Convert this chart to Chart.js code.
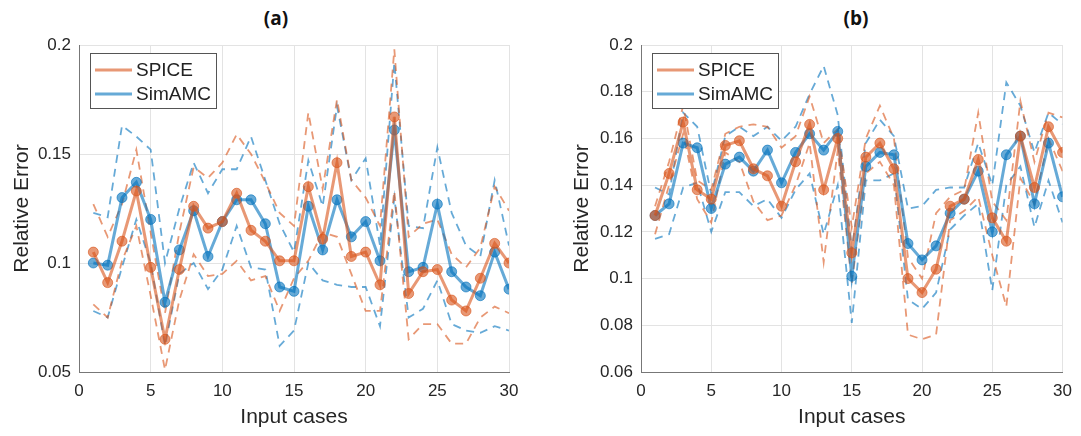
<!DOCTYPE html>
<html>
<head>
<meta charset="utf-8">
<script src="https://cdn.jsdelivr.net/npm/chart.js@4"></script>
<style>
  html, body { margin: 0; padding: 0; background: #fff; }
  #wrap { position: relative; width: 1081px; height: 436px; overflow: hidden; }
  canvas { position: absolute; top: 0; }
  .ptitle { position: absolute; top: 5px; font: bold 19px "Open Sans", "Liberation Sans", sans-serif; color: #111; transform: translateX(-50%); }
</style>
</head>
<body>
<div id="wrap">
  <div class="ptitle" style="left:276px">(a)</div>
  <div class="ptitle" style="left:856px">(b)</div>
  <canvas id="chartA" width="540" height="436" style="left:0"></canvas>
  <canvas id="chartB" width="541" height="436" style="left:540px"></canvas>
</div>
<script>
// --- DATA ---
const cases = [1,2,3,4,5,6,7,8,9,10,11,12,13,14,15,16,17,18,19,20,21,22,23,24,25,26,27,28,29,30];
const xTicks = [0, 5, 10, 15, 20, 25, 30];
const yTicksA = [0.05, 0.1, 0.15, 0.2];
const yTicksB = [0.06, 0.08, 0.1, 0.12, 0.14, 0.16, 0.18, 0.2];

// panel (a)
const spiceA      = [0.105,0.091,0.110,0.133,0.098,0.065,0.097,0.126,0.116,0.119,0.132,0.115,0.110,0.101,0.101,0.135,0.111,0.146,0.103,0.105,0.090,0.167,0.086,0.096,0.097,0.083,0.078,0.093,0.109,0.100];
const simamcA     = [0.100,0.099,0.130,0.137,0.120,0.082,0.106,0.124,0.103,0.119,0.129,0.129,0.118,0.089,0.087,0.126,0.106,0.129,0.112,0.119,0.101,0.161,0.096,0.098,0.127,0.096,0.089,0.085,0.105,0.088];
const spiceHiA    = [0.127,0.112,0.127,0.152,0.114,0.077,0.114,0.144,0.139,0.146,0.159,0.150,0.137,0.123,0.117,0.169,0.134,0.175,0.138,0.130,0.117,0.198,0.112,0.118,0.120,0.104,0.098,0.107,0.135,0.124];
const spiceLoA    = [0.081,0.075,0.101,0.117,0.085,0.051,0.083,0.104,0.094,0.095,0.101,0.092,0.094,0.078,0.093,0.101,0.114,0.112,0.095,0.078,0.078,0.133,0.065,0.072,0.072,0.063,0.063,0.075,0.080,0.077];
const simamcHiA   = [0.123,0.121,0.163,0.158,0.152,0.100,0.125,0.146,0.132,0.143,0.143,0.158,0.138,0.118,0.105,0.147,0.126,0.172,0.138,0.148,0.108,0.192,0.117,0.116,0.153,0.123,0.108,0.103,0.138,0.108];
const simamcLoA   = [0.078,0.075,0.098,0.120,0.100,0.062,0.095,0.100,0.088,0.097,0.117,0.098,0.097,0.062,0.069,0.100,0.092,0.090,0.089,0.089,0.071,0.130,0.075,0.079,0.092,0.072,0.069,0.068,0.071,0.069];

// panel (b)
const spiceB      = [0.127,0.145,0.167,0.138,0.134,0.157,0.159,0.147,0.144,0.131,0.150,0.166,0.138,0.160,0.111,0.152,0.158,0.147,0.100,0.094,0.104,0.131,0.134,0.151,0.126,0.116,0.161,0.139,0.165,0.154];
const simamcB     = [0.127,0.132,0.158,0.156,0.130,0.149,0.152,0.146,0.155,0.141,0.154,0.162,0.155,0.163,0.101,0.148,0.154,0.153,0.115,0.108,0.114,0.128,0.134,0.146,0.120,0.153,0.161,0.132,0.158,0.135];
const spiceHiB    = [0.131,0.150,0.174,0.142,0.138,0.162,0.165,0.166,0.165,0.156,0.161,0.178,0.158,0.164,0.122,0.160,0.174,0.160,0.109,0.100,0.128,0.135,0.138,0.171,0.133,0.125,0.176,0.150,0.171,0.169];
const spiceLoB    = [0.119,0.140,0.162,0.134,0.124,0.154,0.150,0.133,0.125,0.127,0.140,0.158,0.107,0.155,0.098,0.145,0.150,0.140,0.076,0.074,0.076,0.125,0.129,0.135,0.110,0.088,0.143,0.132,0.160,0.146];
const simamcHiB   = [0.139,0.136,0.171,0.165,0.136,0.161,0.165,0.161,0.165,0.159,0.165,0.179,0.191,0.170,0.112,0.158,0.168,0.161,0.130,0.131,0.138,0.139,0.139,0.158,0.140,0.184,0.174,0.154,0.171,0.166];
const simamcLoB   = [0.117,0.119,0.139,0.141,0.120,0.137,0.137,0.131,0.134,0.126,0.138,0.145,0.119,0.140,0.081,0.142,0.142,0.145,0.091,0.087,0.094,0.121,0.127,0.132,0.095,0.140,0.148,0.122,0.142,0.124];

const ORANGE = 'rgba(217, 83, 25, 0.6)';
const BLUE = 'rgba(0, 114, 189, 0.6)';
const FONT = '"Liberation Sans", Arial, sans-serif';

function pts(vals) {
    return cases.map((c, i) => ({ x: c, y: vals[i] }));
}

function solid(label, vals, color) {
    return {
        label: label, data: pts(vals), borderColor: color, backgroundColor: color,
        borderWidth: 3, pointRadius: 5, pointBorderWidth: 1,
        pointBackgroundColor: color, pointBorderColor: color, order: 0
    };
}

function dashed(vals, color) {
    return {
        label: '', data: pts(vals), borderColor: color, borderWidth: 1.8,
        borderDash: [8, 6], pointRadius: 0, order: 1
    };
}

// legend drawn inside the axes, matlab style
const insideLegend = {
    id: 'insideLegend',
    afterDatasetsDraw(chart) {
        const ctx = chart.ctx;
        const a = chart.chartArea;
        const x = a.left + 11, y = a.top + 8;
        ctx.save();
        ctx.fillStyle = '#fff';
        ctx.fillRect(x, y, 126, 55);
        ctx.strokeStyle = '#555';
        ctx.lineWidth = 1;
        ctx.strokeRect(x + 0.5, y + 0.5, 126, 55);
        const items = [['SPICE', ORANGE], ['SimAMC', BLUE]];
        ctx.font = '19px ' + FONT;
        ctx.textBaseline = 'middle';
        items.forEach((it, k) => {
            const yy = y + 17 + k * 24;
            ctx.strokeStyle = it[1];
            ctx.lineWidth = 3;
            ctx.beginPath();
            ctx.moveTo(x + 5, yy);
            ctx.lineTo(x + 42, yy);
            ctx.stroke();
            ctx.fillStyle = '#222';
            ctx.fillText(it[0], x + 46, yy + 1);
        });
        ctx.restore();
    }
};

function makeChart(id, data, yTicks, padLeft, yWidth, padRight) {
    const ctx = document.getElementById(id).getContext('2d');
    return new Chart(ctx, {
        type: 'line',
        data: {
            datasets: [
                solid('SPICE', data[0], ORANGE),
                solid('SimAMC', data[1], BLUE),
                dashed(data[2], ORANGE),
                dashed(data[3], ORANGE),
                dashed(data[4], BLUE),
                dashed(data[5], BLUE)
            ]
        },
        options: {
            responsive: false,
            animation: false,
            layout: { padding: { left: padLeft, right: padRight, top: 45, bottom: 0 } },
            plugins: { legend: { display: false }, tooltip: { enabled: false } },
            scales: {
                x: {
                    type: 'linear', min: 0, max: 30,
                    afterBuildTicks: s => { s.ticks = xTicks.map(v => ({ value: v })); },
                    afterFit: s => { s.height = 64; },
                    grid: { color: '#e3e3e3', drawTicks: false },
                    border: { color: '#777' },
                    ticks: { color: '#262626', font: { family: FONT, size: 17 }, padding: 9, maxRotation: 0 },
                    title: { display: true, text: 'Input cases', color: '#262626', font: { family: FONT, size: 21 }, padding: { top: 4, bottom: 6 } }
                },
                y: {
                    min: yTicks[0], max: yTicks[yTicks.length - 1],
                    afterBuildTicks: s => { s.ticks = yTicks.map(v => ({ value: v })); },
                    afterFit: s => { s.width = yWidth; },
                    grid: { color: '#e3e3e3', drawTicks: false },
                    border: { color: '#777' },
                    ticks: { color: '#262626', font: { family: FONT, size: 17 }, padding: 8, callback: v => String(+v.toFixed(2)) },
                    title: { display: true, text: 'Relative Error', color: '#262626', font: { family: FONT, size: 21 }, padding: { top: 10, bottom: 0 } }
                }
            }
        },
        plugins: [insideLegend]
    });
}

makeChart('chartA', [spiceA, simamcA, spiceHiA, spiceLoA, simamcHiA, simamcLoA], yTicksA, 0, 79, 31);
makeChart('chartB', [spiceB, simamcB, spiceHiB, spiceLoB, simamcHiB, simamcLoB], yTicksB, 20, 81, 10);
</script>
</body>
</html>
